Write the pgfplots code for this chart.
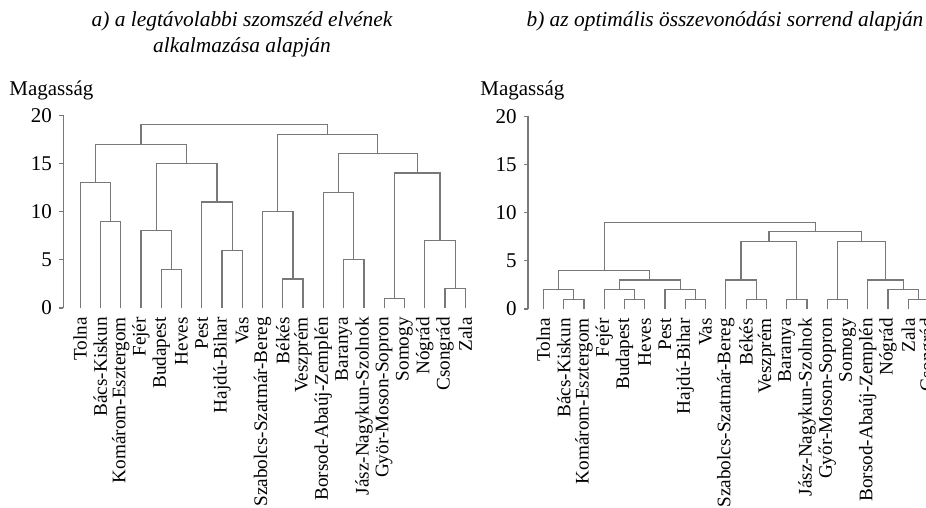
\documentclass[border=0pt]{standalone}
\usepackage{fontspec}
\setmainfont{Liberation Serif}
\usepackage{pgfplots}
\pgfplotsset{compat=1.18}
\definecolor{dend}{RGB}{120,120,120}
\tikzset{dl/.style={draw=dend, line width=0.6pt, mark=none, solid, sharp plot}}
\pgfplotsset{dendax/.style={
  x=10.135pt, y=4.82pt, anchor=origin,
  ymin=0, ymax=20, xmax=20.6,
  axis lines*=left, x axis line style={draw=none},
  y axis line style={dend, line width=0.6pt},
  ytick={0,5,10,15,20},
  yticklabel style={font=\fontsize{10.5}{12}\selectfont},
  ytick style={dend, line width=0.6pt}, tick align=outside, major tick length=2.2pt,
  xtick={1,...,20}, xtick style={draw=none},
  xticklabel style={rotate=90, anchor=east, inner sep=0pt, font=\fontsize{9.6}{11}\selectfont},
  xticklabel shift=2.2pt,
  clip=false,
  /pgf/number format/assume math mode=true,
}}
\begin{document}
\begin{tikzpicture}
% titles
\node[font=\fontsize{10.7}{13}\selectfont\itshape, align=center] at (121pt,-17.25pt) {a) a legtávolabbi szomszéd elvének\\alkalmazása alapján};
\node[font=\fontsize{10.7}{13}\selectfont\itshape] at (362.5pt,-10.75pt) {b) az optimális összevonódási sorrend alapján};
\node[font=\fontsize{10.5}{12}\selectfont, anchor=west, inner sep=0pt] at (4.5pt,-45pt) {Magasság};
\node[font=\fontsize{10.5}{12}\selectfont, anchor=west, inner sep=0pt] at (240pt,-45pt) {Magasság};

% left panel
\begin{axis}[dendax, at={(31.65pt,-154pt)}, xmin=0.17,
  xticklabels={Tolna, Bács-Kiskun, Komárom-Esztergom, Fejér, Budapest, Heves, Pest, Hajdú-Bihar, Vas, Szabolcs-Szatmár-Bereg, Békés, Veszprém, Borsod-Abaúj-Zemplén, Baranya, Jász-Nagykun-Szolnok, Györ-Moson-Sopron, Somogy, Nógrád, Csongrád, Zala}]
\addplot[dl] coordinates {(2,0)(2,9)(3,9)(3,0)};
\addplot[dl] coordinates {(1,0)(1,13)(2.5,13)(2.5,9)};
\addplot[dl] coordinates {(5,0)(5,4)(6,4)(6,0)};
\addplot[dl] coordinates {(4,0)(4,8)(5.5,8)(5.5,4)};
\addplot[dl] coordinates {(8,0)(8,6)(9,6)(9,0)};
\addplot[dl] coordinates {(7,0)(7,11)(8.5,11)(8.5,6)};
\addplot[dl] coordinates {(4.75,8)(4.75,15)(7.75,15)(7.75,11)};
\addplot[dl] coordinates {(1.75,13)(1.75,17)(6.25,17)(6.25,15)};
\addplot[dl] coordinates {(11,0)(11,3)(12,3)(12,0)};
\addplot[dl] coordinates {(10,0)(10,10)(11.5,10)(11.5,3)};
\addplot[dl] coordinates {(14,0)(14,5)(15,5)(15,0)};
\addplot[dl] coordinates {(13,0)(13,12)(14.5,12)(14.5,5)};
\addplot[dl] coordinates {(16,0)(16,1)(17,1)(17,0)};
\addplot[dl] coordinates {(19,0)(19,2)(20,2)(20,0)};
\addplot[dl] coordinates {(18,0)(18,7)(19.5,7)(19.5,2)};
\addplot[dl] coordinates {(16.5,1)(16.5,14)(18.75,14)(18.75,7)};
\addplot[dl] coordinates {(13.75,12)(13.75,16)(17.625,16)(17.625,14)};
\addplot[dl] coordinates {(10.75,10)(10.75,18)(15.6875,18)(15.6875,16)};
\addplot[dl] coordinates {(4,17)(4,19)(13.21875,19)(13.21875,18)};
\end{axis}

% right panel
\begin{axis}[dendax, at={(264pt,-154.5pt)}, xmin=0.24,
  xticklabels={Tolna, Bács-Kiskun, Komárom-Esztergom, Fejér, Budapest, Heves, Pest, Hajdú-Bihar, Vas, Szabolcs-Szatmár-Bereg, Békés, Veszprém, Baranya, Jász-Nagykun-Szolnok, Győr-Moson-Sopron, Somogy, Borsod-Abaúj-Zemplén, Nógrád, Zala, Csongrád}]
\addplot[dl] coordinates {(2,0)(2,1)(3,1)(3,0)};
\addplot[dl] coordinates {(1,0)(1,2)(2.5,2)(2.5,1)};
\addplot[dl] coordinates {(5,0)(5,1)(6,1)(6,0)};
\addplot[dl] coordinates {(4,0)(4,2)(5.5,2)(5.5,1)};
\addplot[dl] coordinates {(8,0)(8,1)(9,1)(9,0)};
\addplot[dl] coordinates {(7,0)(7,2)(8.5,2)(8.5,1)};
\addplot[dl] coordinates {(4.75,2)(4.75,3)(7.75,3)(7.75,2)};
\addplot[dl] coordinates {(1.75,2)(1.75,4)(6.25,4)(6.25,3)};
\addplot[dl] coordinates {(11,0)(11,1)(12,1)(12,0)};
\addplot[dl] coordinates {(10,0)(10,3)(11.5,3)(11.5,1)};
\addplot[dl] coordinates {(13,0)(13,1)(14,1)(14,0)};
\addplot[dl] coordinates {(10.75,3)(10.75,7)(13.5,7)(13.5,1)};
\addplot[dl] coordinates {(15,0)(15,1)(16,1)(16,0)};
\addplot[dl] coordinates {(19,0)(19,1)(20,1)(20,0)};
\addplot[dl] coordinates {(18,0)(18,2)(19.5,2)(19.5,1)};
\addplot[dl] coordinates {(17,0)(17,3)(18.75,3)(18.75,2)};
\addplot[dl] coordinates {(15.5,1)(15.5,7)(17.875,7)(17.875,3)};
\addplot[dl] coordinates {(12.125,7)(12.125,8)(16.6875,8)(16.6875,7)};
\addplot[dl] coordinates {(4,4)(4,9)(14.40625,9)(14.40625,8)};
\end{axis}
\pgfresetboundingbox
\useasboundingbox (0,0) rectangle (463pt,-254pt);
\end{tikzpicture}
\end{document}
